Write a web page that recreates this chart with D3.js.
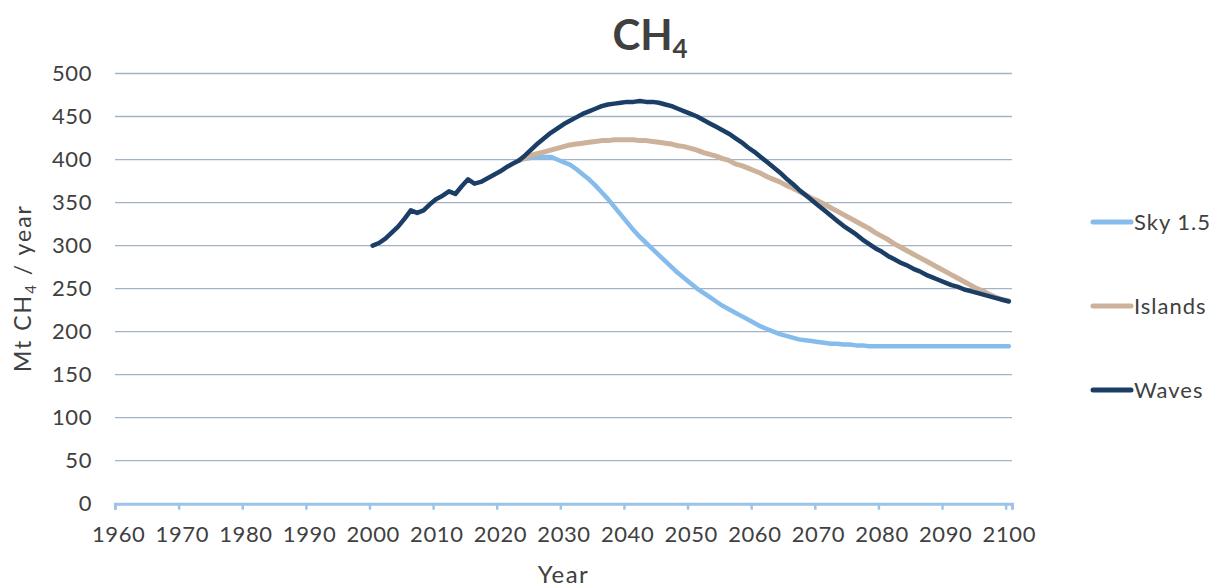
<!DOCTYPE html>
<html>
<head>
<meta charset="utf-8">
<script src="https://cdn.jsdelivr.net/npm/d3@7"></script>
<style>
  body { margin: 0; background: #fff; }
  text { font-family: Lato, "Open Sans", sans-serif; fill: #404040; }
</style>
</head>
<body>
<div id="chart"></div>
<script>
// year axis runs over categories 1960..2100, labels every 10
var decades = d3.range(1960, 2101, 10);
var yTicks = d3.range(0, 501, 50);

var wavesYears = d3.range(2000, 2101);
var wavesValues = [
  300, 303, 308, 315, 322, 331, 341, 338, 341, 348,
  354, 358, 363, 360, 369, 377, 372, 374, 378, 382,
  386, 391, 395, 399, 405, 412, 419, 425, 431, 436,
  441, 445, 449, 453, 456, 459, 462, 464, 465, 466,
  467, 467, 468, 467, 467, 466, 464, 462, 459, 456,
  453, 450, 446, 442, 438, 434, 430, 425, 420, 414,
  409, 403, 397, 391, 385, 378, 372, 365, 359, 353,
  347, 341, 335, 329, 323, 318, 313, 307, 302, 297,
  293, 288, 284, 280, 277, 273, 270, 266, 263, 260,
  257, 254, 252, 249, 247, 245, 243, 241, 239, 237,
  235
];

var scenarioYears = d3.range(2023, 2101);
var islandsValues = [
  399, 402, 405, 407, 409, 411, 413, 415, 417, 418,
  419, 420, 421, 422, 422, 423, 423, 423, 423, 422,
  422, 421, 420, 419, 418, 416, 415, 413, 411, 408,
  406, 404, 401, 399, 395, 393, 390, 387, 384, 380,
  377, 374, 370, 367, 363, 359, 355, 352, 348, 344,
  340, 336, 332, 328, 324, 320, 315, 311, 307, 302,
  298, 294, 290, 286, 282, 278, 274, 270, 266, 262,
  258, 254, 250, 247, 243, 240, 237, 236
];
var skyValues = [
  399, 401, 402, 403, 403, 403, 400, 397, 394, 389,
  383, 377, 370, 362, 354, 345, 336, 327, 318, 310,
  303, 296, 289, 282, 275, 268, 262, 256, 250, 245,
  240, 235, 230, 226, 222, 218, 214, 210, 206, 203,
  200, 197, 195, 193, 191, 190, 189, 188, 187, 186,
  186, 185, 185, 184, 184, 183, 183, 183, 183, 183,
  183, 183, 183, 183, 183, 183, 183, 183, 183, 183,
  183, 183, 183, 183, 183, 183, 183, 183
];

var series = [
  {name: "Sky 1.5", years: scenarioYears, values: skyValues, color: "#86bcec", width: 4.5},
  {name: "Islands", years: scenarioYears, values: islandsValues, color: "#cdb29b", width: 5},
  {name: "Waves", years: wavesYears, values: wavesValues, color: "#1b3e66", width: 4.5}
];

var width = 1220, height = 588;
var plot = {left: 115, right: 1012, top: 73.5, bottom: 503.7};

var svg = d3.select("#chart").append("svg")
  .attr("width", width)
  .attr("height", height);

var x = d3.scaleLinear().domain([1960, 2101]).range([plot.left, plot.right]);
var y = d3.scaleLinear().domain([0, 500]).range([plot.bottom, plot.top]);
var half = x(1960.5) - x(1960);

// gridlines
svg.append("g")
  .selectAll("line")
  .data(yTicks.filter(d => d > 0))
  .enter()
  .append("line")
  .attr("x1", plot.left)
  .attr("x2", plot.right)
  .attr("y1", d => y(d))
  .attr("y2", d => y(d))
  .attr("stroke", "#a3b3c6")
  .attr("stroke-width", 1.3);

// y labels
var yAxis = svg.append("g")
  .attr("transform", "translate(" + plot.left + ",0)")
  .call(d3.axisLeft(y).tickValues(yTicks).tickSize(0).tickPadding(23));
yAxis.select(".domain").remove();
yAxis.selectAll("text")
  .style("font-size", "22px")
  .style("letter-spacing", "0.6px")
  .style("font-family", "Lato, sans-serif")
  .attr("fill", "#404040");

// x axis
var xAxis = svg.append("g")
  .attr("transform", "translate(0," + plot.bottom + ")")
  .call(d3.axisBottom(x).tickValues(decades).tickSize(6).tickPadding(17).tickFormat(d => d));
xAxis.select(".domain")
  .attr("stroke", "#9cc4ea")
  .attr("stroke-width", 3);
xAxis.selectAll(".tick line")
  .attr("stroke", "#9cc4ea")
  .attr("stroke-width", 2.5);
xAxis.selectAll("text")
  .attr("dx", half)
  .style("font-size", "22px")
  .style("letter-spacing", "0.6px")
  .style("font-family", "Lato, sans-serif")
  .attr("fill", "#404040");

// lines
var line = d3.line()
  .x(d => x(d[0] + 0.5))
  .y(d => y(d[1]));

svg.append("g")
  .selectAll("path")
  .data(series)
  .enter()
  .append("path")
  .attr("d", s => line(s.years.map((yr, i) => [yr, s.values[i]])))
  .attr("fill", "none")
  .attr("stroke", s => s.color)
  .attr("stroke-width", s => s.width)
  .attr("stroke-linejoin", "round")
  .attr("stroke-linecap", "round");

// title
var title = svg.append("text")
  .attr("x", 650)
  .attr("y", 50)
  .attr("text-anchor", "middle")
  .style("font-size", "42px")
  .style("font-weight", "bold");
title.append("tspan").text("CH");
title.append("tspan").attr("dy", 8).style("font-size", "26px").text("4");

// axis titles
svg.append("text")
  .attr("x", (plot.left + plot.right) / 2)
  .attr("y", 583)
  .attr("text-anchor", "middle")
  .style("font-size", "24px")
  .style("letter-spacing", "1.5px")
  .text("Year");

var yTitle = svg.append("text")
  .attr("transform", "translate(31,288) rotate(-90)")
  .attr("text-anchor", "middle")
  .style("font-size", "23px")
  .style("letter-spacing", "2px");
yTitle.append("tspan").text("Mt CH");
yTitle.append("tspan").attr("dy", 5).style("font-size", "15px").text("4");
yTitle.append("tspan").attr("dy", -5).text(" / year");

// legend
var legend = svg.append("g")
  .selectAll("g")
  .data(series)
  .enter()
  .append("g")
  .attr("transform", (d, i) => "translate(1093," + (222 + i * 84) + ")");
legend.append("line")
  .attr("x1", 0)
  .attr("x2", 38)
  .attr("stroke", d => d.color)
  .attr("stroke-width", 5)
  .attr("stroke-linecap", "round");
legend.append("text")
  .attr("x", 41)
  .attr("dy", "0.35em")
  .style("font-size", "22px")
  .style("letter-spacing", "1px")
  .text(d => d.name);
</script>
</body>
</html>
